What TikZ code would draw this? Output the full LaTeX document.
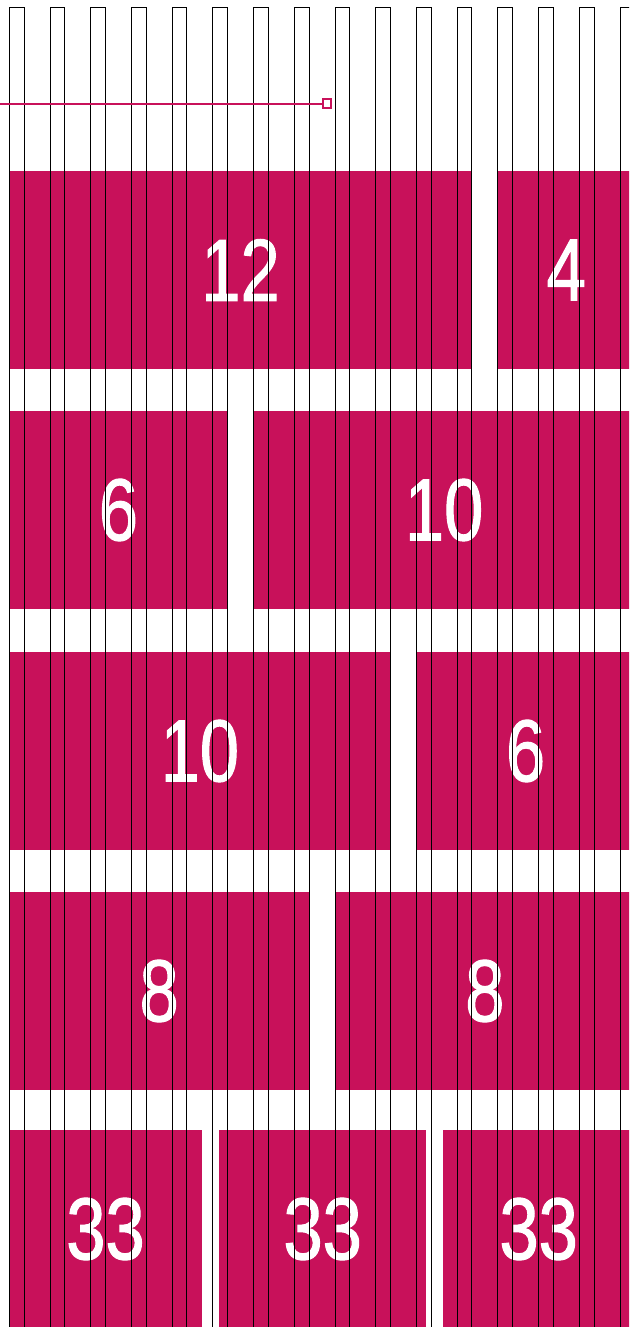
\documentclass[tikz,border=0pt]{standalone}
\usepackage{fontspec}
\newfontfamily\numfont[FakeStretch=0.8, FakeBold=1.2]{Liberation Sans}
\definecolor{gridpink}{RGB}{200,17,90}
\tikzset{
	colline/.style={black, line width=0.8pt},
	numlabel/.style={text=white, inner sep=0pt, font=\numfont\fontsize{88}{88}\selectfont},
	marker/.style={draw=gridpink, fill=white, line width=2pt, minimum size=8.5pt, inner sep=0pt},
}
\begin{document}
\begin{tikzpicture}[x=1pt, y=-1pt, line join=miter]
		\pgfmathsetmacro{\pitch}{40.71}
		\pgfmathsetmacro{\colw}{14.7}
		\pgfmathsetmacro{\xo}{9.3}
		\pgfmathsetmacro{\rowh}{198}
		\clip (0,0) rectangle (629,1327);
		\fill[white] (0,0) rectangle (629,1327);
		% blocks over whole columns
		\foreach \c/\d/\t/\n in {0/11/171/12, 12/15/171/4, 0/5/411/6, 6/15/411/10, 0/9/652/10, 10/15/652/6, 0/7/892/8, 8/15/892/8} {
			\pgfmathsetmacro{\xa}{\xo+\c*\pitch}
			\pgfmathsetmacro{\xb}{\xo+\d*\pitch+\colw}
			\fill[gridpink] (\xa,\t) rectangle (\xb,\t+\rowh);
			\node[numlabel] (n\t-\c) at ({(\xa+\xb)/2},\t+\rowh/2) {\n};
		}
		% thirds
		\foreach \xa/\xb in {9.3/201.7, 219.3/426, 443.3/634} {
			\fill[gridpink] (\xa,1130) rectangle (\xb,1130+\rowh);
			\node[numlabel] (third\xa) at ({(\xa+\xb)/2},1130+\rowh/2) {33};
		}
		% column outlines
		\foreach \k in {0,...,15} {
			\pgfmathsetmacro{\xl}{\xo+\k*\pitch}
			\draw[colline] (\xl,1330) -- (\xl,7) -- (\xl+\colw,7) -- (\xl+\colw,1330);
		}
		\node[marker] (mark) at (327,103.7) {};
		\draw[gridpink, line width=2pt] (mark.west) -- (0,103.7);
	\end{tikzpicture}
\end{document}
